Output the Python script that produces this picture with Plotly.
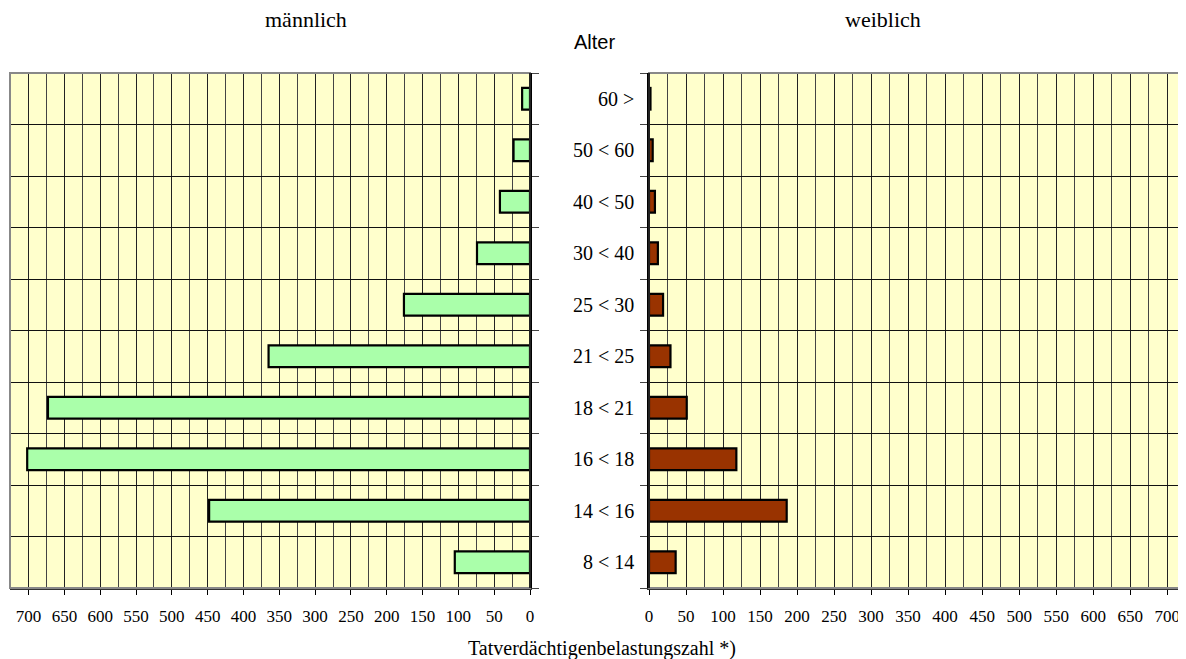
import plotly.graph_objects as go

age_groups = ["8 < 14", "14 < 16", "16 < 18", "18 < 21", "21 < 25",
              "25 < 30", "30 < 40", "40 < 50", "50 < 60", "60 >"]
male = [105, 448, 702, 673, 365, 176, 74, 42, 23, 11]
female = [36, 186, 118, 51, 29, 19, 12, 8, 5, 2]
x_ticks = list(range(0, 701, 50))

OFF = 8  # browser body margin
W, H = 1186 - OFF, 659 - OFF
def px(x): return (x - OFF) / W
def py(y): return 1 - (y - OFF) / H

LX0, LX1 = px(10), px(530)
RX0, RX1 = px(649), px(1182)
Y0, Y1 = py(588), py(73)

serif = "Liberation Serif"
sans = "Liberation Sans"

fig = go.Figure()
fig.add_trace(go.Bar(y=age_groups, x=male, orientation="h", xaxis="x", yaxis="y",
                     marker=dict(color="#AAFFAA", line=dict(color="black", width=2.2)),
                     width=0.42, hoverinfo="x+y", showlegend=False))
fig.add_trace(go.Bar(y=age_groups, x=female, orientation="h", xaxis="x2", yaxis="y2",
                     marker=dict(color="#993300", line=dict(color="black", width=2.2)),
                     width=0.42, hoverinfo="x+y", showlegend=False))

xcommon = dict(tickvals=x_ticks, ticktext=[str(v) for v in x_ticks],
               showgrid=True, gridcolor="#222222", gridwidth=1,
               minor=dict(dtick=25, tick0=0, showgrid=True, gridcolor="#444444", gridwidth=1),
               ticks="outside", ticklen=5, tickcolor="black", ticklabelstandoff=7,
               showline=True, linecolor="#333333", linewidth=1.5,
               zeroline=False, tickfont=dict(family=serif, size=17, color="black"),
               automargin=False, fixedrange=True)
ycommon = dict(type="category", categoryorder="array", categoryarray=age_groups,
               tickson="boundaries", ticks="outside", ticklen=7, tickcolor="#444444",
               showgrid=True, gridcolor="#111111", gridwidth=1,
               showline=True, linecolor="black", linewidth=1.5,
               zeroline=False, automargin=False, fixedrange=True)

fig.update_layout(
    width=W, height=H,
    margin=dict(l=0, r=0, t=0, b=0),
    paper_bgcolor="white", plot_bgcolor="#FFFFCC",
    xaxis=dict(domain=[LX0, LX1], range=[726, 0], anchor="y", **xcommon),
    yaxis=dict(domain=[Y0, Y1], anchor="x", side="right", showticklabels=False, **ycommon),
    xaxis2=dict(domain=[RX0, RX1], range=[0, 720], anchor="y2", **xcommon),
    yaxis2=dict(domain=[Y0, Y1], anchor="x2", side="left", showticklabels=True,
                ticklabelstandoff=9,
                tickfont=dict(family=serif, size=20, color="black"), **ycommon),
    shapes=[
        dict(type="rect", xref="paper", yref="paper", x0=LX0, x1=LX1, y0=Y0, y1=Y1,
             line=dict(color="#888888", width=2), layer="above"),
        dict(type="rect", xref="paper", yref="paper", x0=RX0, x1=RX1, y0=Y0, y1=Y1,
             line=dict(color="#888888", width=2), layer="above"),
        dict(type="line", xref="paper", yref="paper", x0=LX1, x1=LX1, y0=Y0, y1=Y1,
             line=dict(color="black", width=1.5), layer="above"),
        dict(type="line", xref="paper", yref="paper", x0=RX0, x1=RX0, y0=Y0, y1=Y1,
             line=dict(color="black", width=1.5), layer="above"),
    ],
    annotations=[
        dict(text="männlich", x=px(306), y=py(19), xref="paper", yref="paper",
             xanchor="center", yanchor="middle",
             showarrow=False, font=dict(family=serif, size=22, color="black")),
        dict(text="weiblich", x=px(883), y=py(19), xref="paper", yref="paper",
             xanchor="center", yanchor="middle",
             showarrow=False, font=dict(family=serif, size=22, color="black")),
        dict(text="Alter", x=px(594), y=py(42), xref="paper", yref="paper",
             xanchor="center", yanchor="middle",
             showarrow=False, font=dict(family=sans, size=20, color="black")),
        dict(text="Tatverdächtigenbelastungszahl *)", x=px(602), y=py(648), xref="paper", yref="paper",
             xanchor="center", yanchor="middle",
             showarrow=False, font=dict(family=serif, size=20, color="black")),
    ],
)

fig.write_html("out.html")
